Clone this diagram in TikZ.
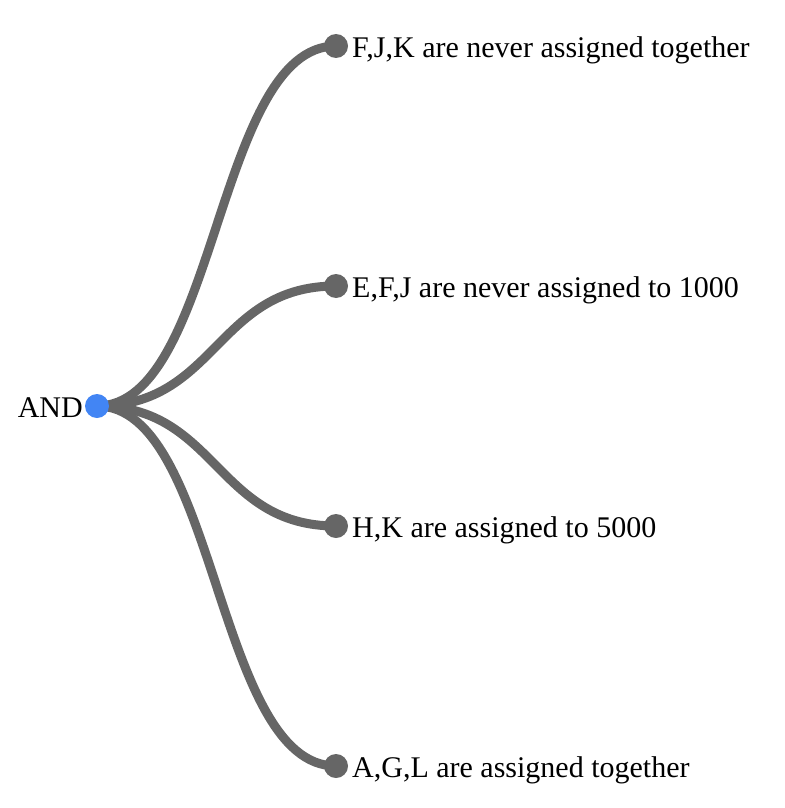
\documentclass[tikz,border=0pt]{standalone}
\usepackage{fontspec}
\setmainfont{Liberation Serif}
\usepackage{tikz}
\usetikzlibrary{backgrounds}
\definecolor{linkgray}{RGB}{102,102,102}
\definecolor{rootblue}{RGB}{66,133,244}
\tikzset{
  leafdot/.style={circle, fill=linkgray, inner sep=0pt, minimum size=24pt},
  rootdot/.style={circle, fill=rootblue, inner sep=0pt, minimum size=24pt},
  link/.style={draw=linkgray, line width=9pt},
  lbl/.style={font=\fontsize{30}{34}\selectfont, inner sep=0pt}
}
\begin{document}
\begin{tikzpicture}[x=1pt, y=-1pt]
\useasboundingbox (0, 0) rectangle (784, 808);
\node[rootdot] (and) at (97, 406) {};
\node[leafdot] (fjk) at (336, 46) {};
\node[leafdot] (efj) at (336, 286) {};
\node[leafdot] (hk) at (336, 526) {};
\node[leafdot] (agl) at (336, 766) {};
\node[lbl, anchor=base east] at (83, 417) {AND};
\node[lbl, anchor=base west] at (352, 57) {F,J,K are never assigned together};
\node[lbl, anchor=base west] at (352, 297) {E,F,J are never assigned to 1000};
\node[lbl, anchor=base west] at (352, 537) {H,K are assigned to 5000};
\node[lbl, anchor=base west] at (352, 777) {A,G,L are assigned together};
\begin{scope}[on background layer]
\draw[link] (and.center) .. controls +(120, 0) and +(-120, 0) .. (fjk.center);
\draw[link] (and.center) .. controls +(120, 0) and +(-120, 0) .. (efj.center);
\draw[link] (and.center) .. controls +(120, 0) and +(-120, 0) .. (hk.center);
\draw[link] (and.center) .. controls +(120, 0) and +(-120, 0) .. (agl.center);
\end{scope}
\end{tikzpicture}
\end{document}
